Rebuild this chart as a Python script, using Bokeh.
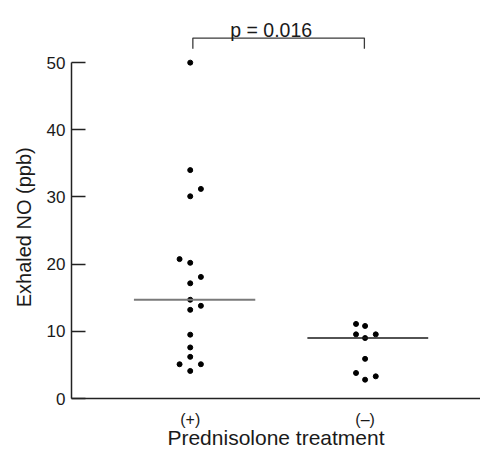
from bokeh.plotting import figure
from bokeh.models import FixedTicker, Range1d
from bokeh.embed import file_html
from bokeh.resources import INLINE

# ---- data ----
groups = ["(+)", "(–)"]
plus_values = [50.0, 34.0, 31.2, 30.1, 20.75, 20.2, 18.1, 17.15, 14.7, 13.8, 13.2,
               9.5, 7.6, 6.2, 5.1, 5.1, 4.1]
plus_jitter = [0, 0, 1, 0, -1, 0, 1, 0, 0, 1, 0, 0, 0, 0, -1, 1, 0]
minus_values = [11.1, 10.8, 9.55, 9.55, 9.0, 5.9, 3.8, 3.3, 2.8]
minus_jitter = [-0.85, 0, -0.85, 1, 0, 0, -0.85, 1, 0]
medians = [14.7, 9.0]
p_text = "p = 0.016"
y_label = "Exhaled NO (ppb)"
x_label = "Prednisolone treatment"
y_ticks = [0, 10, 20, 30, 40, 50]

FONT = "Liberation Sans"
TXT = "#1a1a1a"
step = 0.061  # jitter spacing in x units

p = figure(width=480, height=451, output_backend="svg", toolbar_location=None,
           x_range=Range1d(0.321, 2.66), y_range=Range1d(0, 59.25),
           min_border_left=71, min_border_right=0, min_border_top=0,
           min_border_bottom=52)
p.outline_line_color = None
p.grid.visible = False
p.background_fill_color = "white"
p.border_fill_color = "white"

xs = [1 + j * step for j in plus_jitter] + [2 + j * step for j in minus_jitter]
ys = plus_values + minus_values
p.scatter(x=xs, y=ys, size=5, color="black")

# median lines
p.segment(x0=[1 - 0.322], x1=[1 + 0.372], y0=[medians[0]], y1=[medians[0]],
          line_color="#7a7a7a", line_width=2)
p.segment(x0=[2 - 0.33], x1=[2 + 0.361], y0=[medians[1]], y1=[medians[1]],
          line_color="#1a1a1a", line_width=1.5)

# significance bracket
bx0, bx1, btop, bbot = 1.015, 1.996, 53.66, 52.08
p.line(x=[bx0, bx0, bx1, bx1], y=[bbot, btop, btop, bbot],
       line_color="#3a3a3a", line_width=1.3)
p.text(x=[1.463], y=[54.8], text=[p_text], text_font_size="19.5px",
       text_align="center", text_baseline="alphabetic", text_color=TXT,
       text_font={"value": FONT})

# y axis
ya = p.yaxis[0]
ya.ticker = FixedTicker(ticks=y_ticks)
ya.bounds = (0, 50)
ya.major_tick_in = 14
ya.major_tick_out = 0
ya.minor_tick_line_color = None
ya.major_label_standoff = 6
ya.major_label_text_font = FONT
ya.major_label_text_font_size = "17px"
ya.major_label_text_color = TXT
# trailing no-break spaces centre the title on the 0..50 part of the axis
ya.axis_label = y_label + "\u00a0" * 10
ya.axis_label_text_font = FONT
ya.axis_label_text_font_size = "20px"
ya.axis_label_text_font_style = "normal"
ya.axis_label_text_color = TXT
ya.axis_label_standoff = 9
ya.axis_line_color = "#222222"
ya.axis_line_width = 1.5
ya.major_tick_line_color = "#222222"
ya.major_tick_line_width = 1.3

# x axis
xa = p.xaxis[0]
xa.ticker = FixedTicker(ticks=[1, 2])
xa.major_label_overrides = {1: groups[0], 2: groups[1]}
xa.major_tick_in = 0
xa.major_tick_out = 0
xa.minor_tick_line_color = None
xa.major_label_standoff = 12
xa.major_label_text_font = FONT
xa.major_label_text_font_size = "16px"
xa.major_label_text_color = TXT
xa.axis_label = x_label
xa.axis_label_text_font = FONT
xa.axis_label_text_font_size = "21px"
xa.axis_label_text_font_style = "normal"
xa.axis_label_text_color = TXT
xa.axis_label_standoff = -5
xa.axis_line_color = "#222222"
xa.axis_line_width = 1.5

open("out.html", "w").write(file_html(p, INLINE))
